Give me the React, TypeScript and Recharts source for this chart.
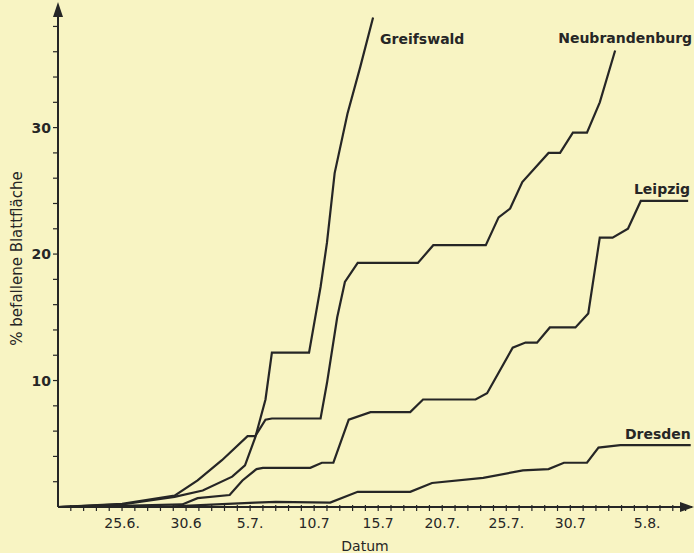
import React from 'react';
import { LineChart, Line, XAxis, YAxis } from 'recharts';

// days counted from 25.6. (day 0); values = % befallene Blattfläche
const greifswald = [
  [-5, 0], [0, 0.2], [4.1, 0.8], [6.3, 1.3], [8.6, 2.4], [9.6, 3.3], [10.4, 5.5], [11.2, 8.5],
  [11.7, 12.2], [14.6, 12.2], [15.5, 17.4], [16.0, 20.9], [16.6, 26.4], [17.6, 31.1], [18.6, 34.8], [19.6, 38.7],
];
const neubrandenburg = [
  [-5, 0], [0, 0.25], [4.1, 0.9], [5.9, 2.1], [7.8, 3.7], [9.8, 5.6], [10.4, 5.6], [11.2, 6.9],
  [11.7, 7.0], [15.5, 7.0], [16.0, 9.8], [16.8, 15.0], [17.4, 17.8], [18.4, 19.3], [23.1, 19.3], [24.3, 20.7],
  [28.4, 20.7], [29.4, 22.9], [30.3, 23.6], [31.25, 25.7], [33.3, 28.0], [34.2, 28.0], [35.2, 29.6],
  [36.3, 29.6], [37.3, 32.0], [38.5, 36.1],
];
const leipzig = [
  [-5, 0], [0, 0.1], [4.7, 0.2], [5.9, 0.7], [8.4, 0.95], [9.4, 2.1], [10.5, 3.0], [11.0, 3.1],
  [14.7, 3.1], [15.6, 3.5], [16.5, 3.5], [17.7, 6.9], [19.4, 7.5], [22.5, 7.5], [23.5, 8.5], [27.6, 8.5],
  [28.5, 9.0], [30.5, 12.6], [31.5, 13.0], [32.4, 13.0], [33.4, 14.2], [35.4, 14.2], [36.4, 15.3],
  [37.3, 21.3], [38.3, 21.3], [39.5, 22.0], [40.5, 24.2], [44.2, 24.2],
];
const dresden = [
  [-5, 0], [4, 0.05], [10.4, 0.35], [12, 0.4], [16.25, 0.35], [18.4, 1.2], [22.5, 1.2], [24.2, 1.9],
  [28.2, 2.3], [31.3, 2.9], [33.3, 3.0], [34.5, 3.5], [36.3, 3.5], [37.2, 4.7], [38.9, 4.9], [44.4, 4.9],
];

const tickDays = [0, 5, 10, 15, 20, 25, 30, 35, 41];
const tickLabels = ['25.6.', '30.6', '5.7.', '10.7', '15.7', '20.7.', '25.7.', '30.7', '5.8.'];
const allDays = Array.from({ length: 49 }, (_, i) => i - 4);
const yTicks = Array.from({ length: 20 }, (_, i) => i * 2);

const ink = '#262626';
const paper = '#f8f4c3';
const font = '"DejaVu Sans", sans-serif';

const toPoints = (rows: number[][]) => rows.map(([day, value]) => ({ day, value }));

const XTick = ({ x, y, payload }: any) => {
  const i = tickDays.indexOf(payload.value);
  return (
    <g>
      <line x1={x} x2={x} y1={y - 2} y2={y + 4} stroke={ink} strokeWidth={1.2} />
      {i >= 0 && (
        <text x={x} y={y + 21} textAnchor="middle" fontSize={14} fontFamily={font} fill={ink}>
          {tickLabels[i]}
        </text>
      )}
    </g>
  );
};

const YTick = ({ x, y, payload }: any) => {
  const v = payload.value;
  if (v === 0) return null;
  const major = v % 10 === 0;
  return (
    <g>
      <line x1={x - 5} x2={x} y1={y} y2={y} stroke={ink} strokeWidth={1.2} />
      {major && (
        <text x={x - 7} y={y + 5} textAnchor="end" fontSize={14} fontWeight="bold" fontFamily={font} fill={ink}>
          {v}
        </text>
      )}
    </g>
  );
};

const endLabel = (name: string, last: number, dx: number, dy: number, anchor: string) => (props: any) => {
  if (props.index !== last) return null;
  return (
    <text x={props.x + dx} y={props.y + dy} textAnchor={anchor} fontSize={14} fontWeight="bold" fontFamily={font} fill={ink}>
      {name}
    </text>
  );
};

const series = [
  { name: 'Greifswald', rows: greifswald, label: endLabel('Greifswald', greifswald.length - 1, 7, 26, 'start') },
  { name: 'Neubrandenburg', rows: neubrandenburg, label: endLabel('Neubrandenburg', neubrandenburg.length - 1, 10, -7, 'middle') },
  { name: 'Leipzig', rows: leipzig, label: endLabel('Leipzig', leipzig.length - 1, 2, -7, 'end') },
  { name: 'Dresden', rows: dresden, label: endLabel('Dresden', dresden.length - 1, 0, -6, 'end') },
];

export default function App() {
  return (
    <div style={{ position: 'relative', width: 694, height: 553, background: paper }}>
      <style>{'body{margin:0}'}</style>
      <LineChart width={694} height={553} margin={{ top: 10, right: 2, bottom: 16, left: 8 }}>
        <XAxis
          dataKey="day"
          type="number"
          domain={[-5, 44.5]}
          ticks={allDays}
          interval={0}
          tick={<XTick />}
          tickLine={false}
          tickSize={0}
          tickMargin={0}
          height={30}
          axisLine={{ stroke: ink, strokeWidth: 2 }}
          allowDataOverflow
          label={{
            content: ({ viewBox }: any) => (
              <text x={viewBox.x + viewBox.width / 2 - 10} y={viewBox.y + 44} textAnchor="middle" fontSize={14} fontFamily={font} fill={ink}>
                Datum
              </text>
            ),
          }}
        />
        <YAxis
          type="number"
          domain={[0, 39.3]}
          ticks={yTicks}
          interval={0}
          tick={<YTick />}
          tickLine={false}
          tickSize={0}
          tickMargin={0}
          width={50}
          axisLine={{ stroke: ink, strokeWidth: 2 }}
          allowDataOverflow
          label={{
            content: ({ viewBox }: any) => {
              const cx = viewBox.x + 9;
              const cy = viewBox.y + viewBox.height / 2;
              return (
                <text x={cx} y={cy} transform={`rotate(-90 ${cx} ${cy})`} textAnchor="middle" dominantBaseline="central" fontSize={15} fontFamily={font} fill={ink}>
                  % befallene Blattfläche
                </text>
              );
            },
          }}
        />
        {series.map((s) => (
          <Line
            key={s.name}
            data={toPoints(s.rows)}
            dataKey="value"
            name={s.name}
            type="linear"
            stroke={ink}
            strokeWidth={2.2}
            dot={false}
            activeDot={false}
            label={s.label}
            isAnimationActive={false}
          />
        ))}
      </LineChart>
      <svg width={694} height={553} style={{ position: 'absolute', left: 0, top: 0, pointerEvents: 'none' }}>
        <polygon points="694,507 680,502 680,512" fill={ink} />
        <polygon points="58,2 53,17 63,17" fill={ink} />
      </svg>
    </div>
  );
}
